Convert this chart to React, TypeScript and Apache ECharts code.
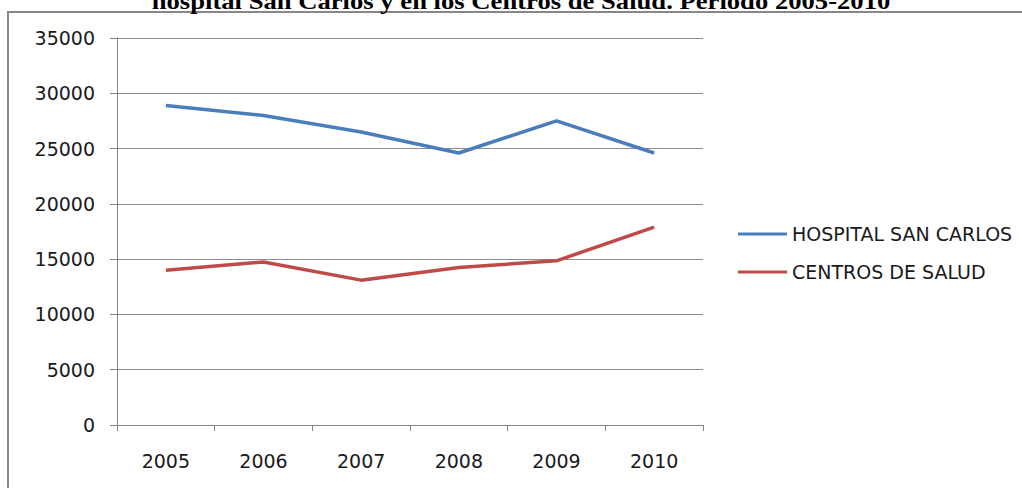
import React, { useEffect, useRef } from "react";
import * as echarts from "echarts";

const years = ["2005", "2006", "2007", "2008", "2009", "2010"];
const hospitalSanCarlos = [28900, 28000, 26500, 24600, 27500, 24600];
const centrosDeSalud = [14000, 14750, 13100, 14250, 14850, 17900];
const seriesNames = ["HOSPITAL SAN CARLOS", "CENTROS DE SALUD"];
const titleText = "hospital San Carlos y en los Centros de Salud. Período 2005-2010";

export default function App() {
  const ref = useRef<HTMLDivElement>(null);
  useEffect(() => {
    if (!ref.current) return;
    const chart = echarts.init(ref.current, null, { renderer: "svg" });
    const labelFont = "'DejaVu Sans', sans-serif";
    chart.setOption({
      animation: false,
      backgroundColor: "#ffffff",
      graphic: [
        {
          type: "rect",
          shape: { x: 8, y: 12, width: 1200, height: 700 },
          style: { fill: "none", stroke: "#878787", lineWidth: 2 },
          silent: true,
          z: -1,
        },
        {
          type: "text",
          x: 521,
          y: 0,
          scaleX: 1.11,
          style: {
            text: titleText,
            fontFamily: "'Liberation Serif', serif",
            fontWeight: "bold",
            fontSize: 24,
            fill: "#000",
            align: "center",
            verticalAlign: "middle",
          },
          silent: true,
        },
      ],
      grid: { left: 117, right: 319, top: 38, bottom: 63, containLabel: false },
      legend: {
        orient: "vertical",
        left: 738,
        top: 224,
        padding: 0,
        icon: "rect",
        itemWidth: 49,
        itemHeight: 3,
        itemGap: 18,
        textStyle: { fontFamily: labelFont, fontSize: 19, color: "#1a1a1a", lineHeight: 20 },
        data: seriesNames,
      },
      xAxis: {
        type: "category",
        data: years,
        boundaryGap: true,
        axisLine: { lineStyle: { color: "#868686", width: 1 } },
        axisTick: { show: true, length: 6, inside: false, lineStyle: { color: "#868686" } },
        axisLabel: { fontFamily: labelFont, fontSize: 19, color: "#1a1a1a", margin: 26 },
        splitLine: { show: false },
      },
      yAxis: {
        type: "value",
        min: 0,
        max: 35000,
        interval: 5000,
        axisLine: { show: true, lineStyle: { color: "#868686", width: 1 } },
        axisTick: { show: true, length: 7, lineStyle: { color: "#868686" } },
        axisLabel: {
          fontFamily: labelFont,
          fontSize: 19,
          color: "#1a1a1a",
          margin: 22,
          formatter: (v: number) => String(v),
        },
        splitLine: { show: true, lineStyle: { color: "#8c8c8c", width: 1 } },
      },
      series: [
        {
          name: seriesNames[0],
          type: "line",
          data: hospitalSanCarlos,
          symbol: "none",
          lineStyle: { color: "#4A7EBB", width: 3.5 },
          itemStyle: { color: "#4A7EBB" },
        },
        {
          name: seriesNames[1],
          type: "line",
          data: centrosDeSalud,
          symbol: "none",
          lineStyle: { color: "#BE4B48", width: 3.5 },
          itemStyle: { color: "#BE4B48" },
        },
      ],
    });
    return () => chart.dispose();
  }, []);
  return (
    <div
      ref={ref}
      style={{ position: "fixed", left: 0, top: 0, width: 1022, height: 488 }}
    />
  );
}
